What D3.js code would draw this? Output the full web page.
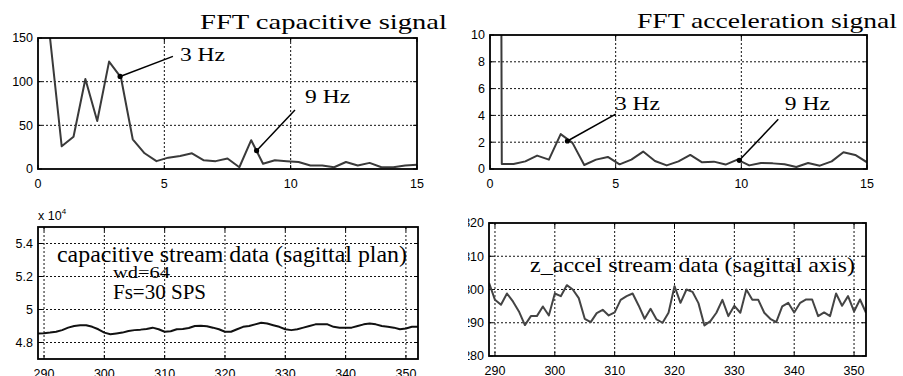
<!DOCTYPE html>
<html lang="en">
<head>
<meta charset="UTF-8" />
<title>FFT capacitive / acceleration signal</title>
<script src="https://d3js.org/d3.v7.min.js"></script>
<style>
  body { margin: 0; background: #fff; }
  svg { display: block; background: #fff; }
  .tick-label { font-family: "Liberation Sans", Arial, sans-serif; font-size: 12.5px; fill: #000; }
  .serif { font-family: "Liberation Serif", "Times New Roman", serif; fill: #000; }
</style>
</head>
<body>
<svg width="903" height="376"></svg>
<script>
  // FFT bins (Hz), wd=64 at Fs=30 SPS
  const fftFreq = [0, 0.469, 0.938, 1.406, 1.875, 2.344, 2.813, 3.281, 3.75, 4.219, 4.688,
    5.156, 5.625, 6.094, 6.563, 7.031, 7.5, 7.969, 8.438, 8.906, 9.375, 9.844, 10.313,
    10.781, 11.25, 11.719, 12.188, 12.656, 13.125, 13.594, 14.063, 14.531, 15];
  const capFft = [4000, 152, 26, 37, 103, 55, 123, 105, 34, 18, 9, 13, 15, 18, 10, 9, 12, 2,
    33, 6, 10, 9, 8, 4, 4, 2, 8, 4, 7, 2, 2, 4, 5];
  const accFft = [300, 0.37, 0.37, 0.57, 1.0, 0.7, 2.6, 1.95, 0.3, 0.7, 0.9, 0.35, 0.7, 1.3,
    0.6, 0.27, 0.57, 1.05, 0.5, 0.55, 0.33, 0.7, 0.27, 0.45, 0.42, 0.35, 0.15, 0.45, 0.25,
    0.57, 1.25, 1.05, 0.5];

  // stream window, samples 289..352
  const sampleIdx = d3.range(289, 353);
  const capStream = [4.855, 4.856, 4.86, 4.865, 4.875, 4.89, 4.90, 4.905, 4.905, 4.895,
    4.88, 4.86, 4.85, 4.855, 4.86, 4.87, 4.875, 4.878, 4.882, 4.89, 4.88, 4.865, 4.868,
    4.88, 4.882, 4.888, 4.90, 4.902, 4.898, 4.89, 4.88, 4.865, 4.865, 4.88, 4.895, 4.90,
    4.91, 4.92, 4.915, 4.905, 4.895, 4.88, 4.875, 4.88, 4.89, 4.90, 4.91, 4.91, 4.91,
    4.895, 4.89, 4.89, 4.89, 4.90, 4.91, 4.915, 4.91, 4.90, 4.895, 4.89, 4.88, 4.885,
    4.895, 4.895];
  const accStream = [302, 296.9, 295.4, 298.8, 296.4, 293.4, 289.3, 292, 292, 294.9, 292.2,
    298.8, 298, 301.3, 300, 297.4, 291.2, 290.2, 292.9, 293.9, 292.2, 293.1, 296.9, 298,
    298.8, 295.2, 291.2, 294.2, 291, 290, 293, 301, 296, 300, 299.3, 295.9, 289.2, 290.5,
    293, 296.9, 292, 295.1, 293, 300, 296.9, 296.9, 293, 291.2, 290.2, 294.9, 296, 293.1,
    296, 297, 297, 292, 293.1, 292, 298.8, 295.1, 298, 293.4, 297, 293];

  // tick labels
  const fftTicksX = [0, 5, 10, 15];
  const capFftTicksY = [0, 50, 100, 150];
  const accFftTicksY = [0, 2, 4, 6, 8, 10];
  const streamTicksX = [290, 300, 310, 320, 330, 340, 350];
  const capStreamTicksY = [4.8, 5, 5.2, 5.4];
  const accStreamTicksY = [280, 290, 300, 310, 320];

  // annotations: [label, dot x, dot y, line-end x, line-end y, text x, text y] in data units
  const capNotes = [["3 Hz", 3.25, 106, 5.34, 129, 5.62, 124],
                    ["9 Hz", 8.65, 21, 10.17, 67.6, 10.57, 75.6]];
  const accNotes = [["3 Hz", 3.08, 2.09, 5.0, 4.1, 4.97, 4.4],
                    ["9 Hz", 9.92, 0.65, 11.47, 3.71, 11.73, 4.4]];

  const svg = d3.select("svg");

  const clipRight = svg.append("defs").append("clipPath").attr("id", "clip-right");
  clipRight.append("rect").attr("x", 468).attr("y", 0).attr("width", 440).attr("height", 376);

  const left = svg.append("g");
  const right = svg.append("g").attr("clip-path", "url(#clip-right)");

  let clipCount = 0;

  function panel(parent, box, xDomain, yDomain, xTicks, yTicks, xs, ys, stroke, lineW) {
    const x = d3.scaleLinear().domain(xDomain).range([box.x0, box.x1]);
    const y = d3.scaleLinear().domain(yDomain).range([box.y1, box.y0]);
    const g = parent.append("g");

    // grid (inside ticks only)
    g.selectAll(".gx").data(xTicks.filter(t => t > xDomain[0] && t < xDomain[1]))
      .enter().append("line")
      .attr("x1", d => x(d)).attr("x2", d => x(d))
      .attr("y1", box.y0).attr("y2", box.y1)
      .attr("stroke", "#111").attr("stroke-width", 1).attr("stroke-dasharray", "2,2");
    g.selectAll(".gy").data(yTicks.filter(t => t > yDomain[0] && t < yDomain[1]))
      .enter().append("line")
      .attr("y1", d => y(d)).attr("y2", d => y(d))
      .attr("x1", box.x0).attr("x2", box.x1)
      .attr("stroke", "#111").attr("stroke-width", 1).attr("stroke-dasharray", "2,2");

    // inward tick marks
    xTicks.forEach(t => {
      [[box.y1, -4], [box.y0, 4]].forEach(([yy, d]) => {
        g.append("line").attr("x1", x(t)).attr("x2", x(t)).attr("y1", yy).attr("y2", yy + d)
          .attr("stroke", "#000").attr("stroke-width", 1);
      });
    });
    yTicks.forEach(t => {
      [[box.x0, 4], [box.x1, -4]].forEach(([xx, d]) => {
        g.append("line").attr("y1", y(t)).attr("y2", y(t)).attr("x1", xx).attr("x2", xx + d)
          .attr("stroke", "#000").attr("stroke-width", 1);
      });
    });

    // data line clipped to the axes box
    const cid = "pc" + (clipCount++);
    svg.select("defs").append("clipPath").attr("id", cid)
      .append("rect").attr("x", box.x0).attr("y", box.y0)
      .attr("width", box.x1 - box.x0).attr("height", box.y1 - box.y0);
    g.append("path")
      .datum(xs.map((v, i) => [v, ys[i]]))
      .attr("clip-path", `url(#${cid})`)
      .attr("fill", "none").attr("stroke", stroke).attr("stroke-width", lineW)
      .attr("stroke-linejoin", "round")
      .attr("d", d3.line().x(d => x(d[0])).y(d => y(d[1])));

    // frame
    g.append("rect").attr("x", box.x0).attr("y", box.y0)
      .attr("width", box.x1 - box.x0).attr("height", box.y1 - box.y0)
      .attr("fill", "none").attr("stroke", "#000").attr("stroke-width", 1.8);

    // tick labels
    g.selectAll(".lx").data(xTicks).enter().append("text")
      .attr("class", "tick-label").attr("text-anchor", "middle")
      .attr("x", d => x(d)).attr("y", box.y1 + 10.5).attr("dy", "0.71em")
      .text(d => d);
    g.selectAll(".ly").data(yTicks).enter().append("text")
      .attr("class", "tick-label").attr("text-anchor", "end")
      .attr("x", box.x0 - 5).attr("y", d => y(d)).attr("dy", "0.35em")
      .text(d => d);

    return { g, x, y };
  }

  function serifText(parent, x, y, size, len, str) {
    parent.append("text").attr("class", "serif")
      .attr("x", x).attr("y", y).attr("font-size", size)
      .attr("textLength", len).attr("lengthAdjust", "spacingAndGlyphs")
      .text(str);
  }

  function notes(p, list) {
    list.forEach(([label, dx, dy, lx, ly, tx, ty]) => {
      p.g.append("line")
        .attr("x1", p.x(dx)).attr("y1", p.y(dy)).attr("x2", p.x(lx)).attr("y2", p.y(ly))
        .attr("stroke", "#000").attr("stroke-width", 1.5);
      p.g.append("circle").attr("cx", p.x(dx)).attr("cy", p.y(dy)).attr("r", 2.6).attr("fill", "#000");
      serifText(p.g, p.x(tx), p.y(ty), 19, 45, label);
    });
  }

  // top left: FFT capacitive signal
  const p1 = panel(left, { x0: 38, x1: 417, y0: 38, y1: 169 }, [0, 15], [0, 150],
    fftTicksX, capFftTicksY, fftFreq, capFft, "#3a3a3a", 2);
  notes(p1, capNotes);
  serifText(left, 200, 29, 22, 247, "FFT capacitive signal");

  // top right: FFT acceleration signal
  const p2 = panel(right, { x0: 490, x1: 867, y0: 35, y1: 169 }, [0, 15], [0, 10],
    fftTicksX, accFftTicksY, fftFreq, accFft, "#3a3a3a", 2);
  notes(p2, accNotes);
  serifText(right, 637, 28, 22, 260, "FFT acceleration signal");

  // bottom left: capacitive stream data
  const p3 = panel(left, { x0: 38, x1: 418, y0: 227, y1: 359 }, [289, 352], [4.7, 5.5],
    streamTicksX, capStreamTicksY, sampleIdx, capStream, "#111", 2);
  serifText(left, 57, 262, 23, 350, "capacitive stream data (sagittal plan)");
  serifText(left, 113, 278, 16, 57, "wd=64");
  serifText(left, 113, 299, 20, 93, "Fs=30 SPS");
  const mult = left.append("text").attr("class", "tick-label").attr("font-size", 11)
    .attr("x", 38).attr("y", 220);
  mult.append("tspan").text("x 10");
  mult.append("tspan").attr("font-size", 8).attr("dy", -6).text("4");

  // bottom right: z_accel stream data
  const p4 = panel(right, { x0: 489, x1: 866, y0: 223, y1: 356 }, [289, 352], [280, 320],
    streamTicksX, accStreamTicksY, sampleIdx, accStream, "#444", 2);
  serifText(right, 530, 272, 22, 325, "z_accel stream data (sagittal axis)");
</script>
</body>
</html>
